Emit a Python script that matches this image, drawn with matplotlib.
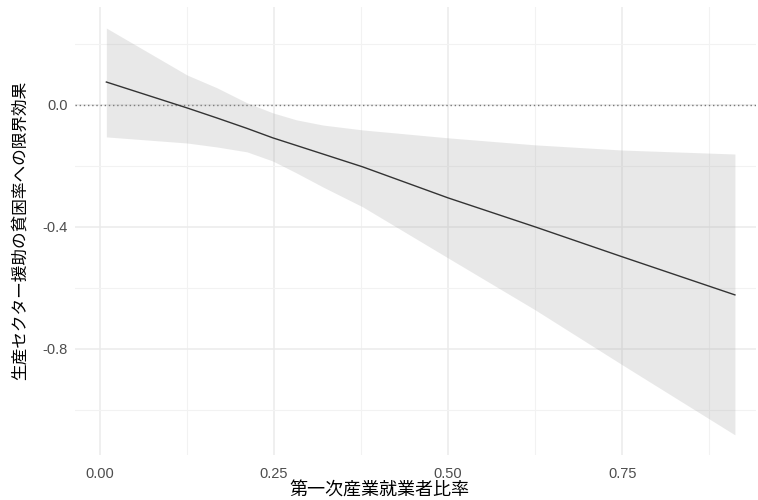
import numpy as np
from matplotlib import pyplot as plt
from matplotlib.ticker import MultipleLocator

# marginal effect of aid on poverty
x_vals = [0.009, 0.125, 0.168, 0.211, 0.248, 0.282, 0.32, 0.377, 0.50, 0.625, 0.75, 0.912]
effect = [0.075, -0.010, -0.043, -0.077, -0.108, -0.133, -0.161, -0.203, -0.305, -0.400, -0.498, -0.623]
upper = [0.252, 0.098, 0.056, 0.007, -0.026, -0.049, -0.066, -0.082, -0.108, -0.131, -0.148, -0.161]
lower = [-0.105, -0.125, -0.138, -0.154, -0.184, -0.223, -0.269, -0.334, -0.502, -0.672, -0.852, -1.082]

x_ticks = [0.0, 0.25, 0.5, 0.75]
x_tick_labels = ['0.00', '0.25', '0.50', '0.75']
y_ticks = [-0.8, -0.4, 0.0]
y_tick_labels = ['-0.8', '-0.4', '0.0']

x_title = '第一次産業就業者比率'
y_title = '生産セクター援助の貧困率への限界効果'

jp = ['Noto Sans CJK JP', 'DejaVu Sans']

fig = plt.figure(figsize=(7.58, 5), dpi=100)
ax = fig.add_axes([0.099, 0.09, 0.899, 0.896])

ax.fill_between(x_vals, lower, upper, color='#999999', alpha=0.22, lw=0, zorder=2)
ax.plot(x_vals, effect, color='#333333', lw=1.0, zorder=3)
ax.axhline(0, color='#777777', lw=1.0, ls=(0, (1, 2)), zorder=1)

ax.set_xlim(-0.036, 0.943)
ax.set_ylim(-1.148, 0.321)

ax.set_xticks(x_ticks)
ax.set_xticklabels(x_tick_labels)
ax.set_yticks(y_ticks)
ax.set_yticklabels(y_tick_labels)
ax.xaxis.set_minor_locator(MultipleLocator(0.125))
ax.yaxis.set_minor_locator(MultipleLocator(0.2))

ax.grid(which='major', color='#EBEBEB', lw=1.1, zorder=0)
ax.grid(which='minor', color='#F2F2F2', lw=0.8, zorder=0)
ax.set_axisbelow(True)
for s in ax.spines.values():
    s.set_visible(False)
ax.tick_params(which='both', length=0)
ax.tick_params(axis='both', labelsize=10.5, labelcolor='#4D4D4D', pad=5)
ax.tick_params(axis='x', pad=9)
for lab in ax.get_xticklabels() + ax.get_yticklabels():
    lab.set_family('Liberation Sans')

fig.text(0.5, 0.018, x_title, family=jp, fontsize=13, ha='center', va='center')
fig.text(0.027, 0.54, y_title, family=jp, fontsize=12, rotation=90, ha='center', va='center')

fig.savefig('out.png', dpi=100)
